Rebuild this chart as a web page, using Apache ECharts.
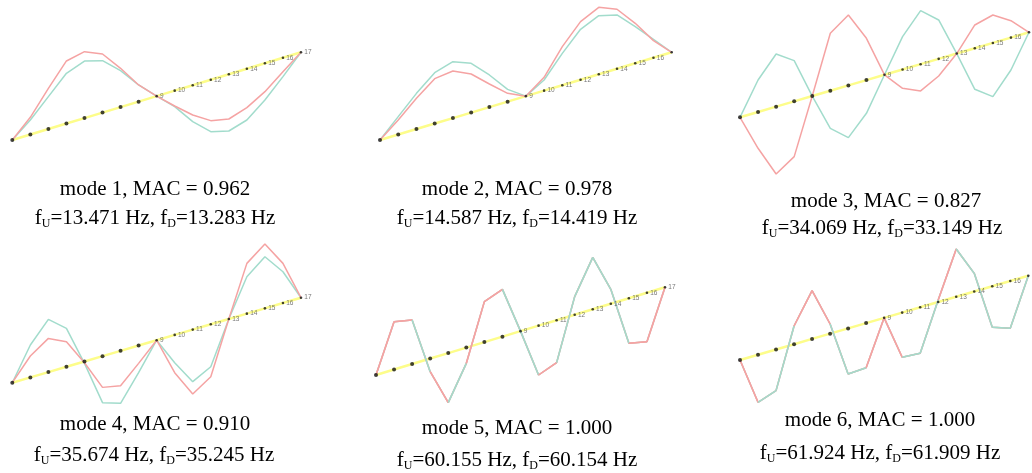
<!DOCTYPE html>
<html><head><meta charset="utf-8">
<script src="https://cdn.jsdelivr.net/npm/echarts@6/dist/echarts.min.js"></script>
<style>html,body{margin:0;padding:0;background:#fff}#c{width:1032px;height:473px}</style>
</head><body><div id="c"></div>
<script>
// ---- data ----
const nodes = [1,2,3,4,5,6,7,8,9,10,11,12,13,14,15,16,17];
const nodeRise = [0,1,2,3,4,5,6,7,8,9,10,11,12,13,14,15,16];
const nodeLabels = ['','','','','','','','','9','10','11','12','13','14','15','16','17'];
const showLastLabel = [true,false,false,true,true,false];

const p1Red  = [0,3.14,7.43,11.42,12.12,10.69,7.08,3.04,0,-2.80,-5.44,-7.47,-8.17,-7.10,-5.18,-2.53,0];
const p1Teal = [0,2.65,5.91,9.17,10.41,9.48,6.65,3.04,0,-2.92,-6.66,-9.48,-10.36,-9.35,-6.70,-3.44,0];
const p2Red  = [0,2.65,5.60,8.19,8.59,7.04,4.22,1.51,0,2.43,7.03,10.60,12.21,10.85,7.29,3.13,0];
const p2Teal = [0,3.26,6.51,9.29,10.29,8.99,5.86,2.24,0,1.95,5.81,9.20,10.69,9.81,6.68,3.37,0];
const p3Red  = [0,-6.83,-12.67,-10.40,0,10.81,13.26,7.87,0,-3.54,-5.04,-3.22,0,4.38,5.26,3.19,0];
const p3Teal = [0,6.03,9.92,7.67,0,-7.07,-9.82,-6.25,0,6.18,10.08,7.32,0,-7.73,-10.11,-6.09,0];
const p4Red  = [0,4.02,6.34,4.72,-0.24,-5.88,-6.56,-3.36,0,-7.12,-12.13,-9.87,0,9.46,12.10,7.46,0];
const p4Teal = [0,6.09,9.92,7.23,-0.36,-8.76,-9.89,-5.12,0,-5.24,-9.81,-7.99,0,6.95,9.71,5.89,0];
const p5Red  = [0,8.73,8.04,-2.39,-9.05,-2.87,7.38,8.63,0,-9.00,-7.75,3.30,9.47,2.63,-8.22,-8.92,0];
const p5Teal = [0,8.73,8.04,-2.39,-9.05,-2.87,7.38,8.63,0,-9.00,-7.75,3.30,9.47,2.63,-8.22,-8.92,0];
const p6Red  = [0,-9.03,-7.82,3.45,9.16,1.83,-8.66,-8.46,0,-8.49,-8.73,0.39,9.06,3.45,-7.80,-8.99,0];
const p6Teal = [0,-9.03,-7.82,3.45,9.16,1.83,-8.66,-8.46,0,-8.49,-8.73,0.39,9.06,3.45,-7.80,-8.99,0];
// which curve is drawn in front on each segment (for overlapping modes)
const p5Front = ['R','R','T','R','T','R','R','T','T','R','T','T','T','T','R','R'];
const p6Front = ['R','T','T','R','R','T','T','R','R','T','T','R','T','T','T','T'];

const modeNames = ['mode 1','mode 2','mode 3','mode 4','mode 5','mode 6'];
const macValues = ['0.962','0.978','0.827','0.910','1.000','1.000'];
const freqU = ['13.471','14.587','34.069','35.674','60.155','61.924'];
const freqD = ['13.283','14.419','33.149','35.245','60.154','61.909'];

// ---- layout ----
const panels = [
  {red:p1Red, teal:p1Teal, front:null,    x1:12.3, y1:140,   x17:301,   y17:52.3,  c1:[155,189], c2:[155,218]},
  {red:p2Red, teal:p2Teal, front:null,    x1:380,  y1:140,   x17:671.7, y17:52.3,  c1:[517,189], c2:[517,218]},
  {red:p3Red, teal:p3Teal, front:null,    x1:740,  y1:117.3, x17:1029,  y17:32.3,  c1:[886,201], c2:[882,228]},
  {red:p4Red, teal:p4Teal, front:null,    x1:12.3, y1:382.7, x17:301,   y17:297.7, c1:[155,424], c2:[154,455]},
  {red:p5Red, teal:p5Teal, front:p5Front, x1:376,  y1:375,   x17:665,   y17:287.3, c1:[517,428], c2:[517,460]},
  {red:p6Red, teal:p6Teal, front:p6Front, x1:740,  y1:360,   x17:1028.3,y17:275.7, c1:[880,420], c2:[880,453]}
];
const RED = '#f5a3a3', TEAL = '#a2dccc', YELLOW = '#fdfd8a';
const yMin = -16, yMax = 20;

const grid = [], xAxis = [], yAxis = [], series = [], graphic = [];
const serif = '"Liberation Serif","Times New Roman",serif';
const rich = {
  t: {fontSize: 21, fontFamily: serif, color: '#000', lineHeight: 24},
  s: {fontSize: 12, fontFamily: serif, color: '#000', verticalAlign: 'bottom'}
};

panels.forEach((p, k) => {
  const u = (p.y1 - p.y17) / 16;
  grid.push({left: p.x1, top: p.y1 - yMax * u, width: p.x17 - p.x1, height: (yMax - yMin) * u});
  xAxis.push({type: 'value', gridIndex: k, min: 1, max: 17, show: false});
  yAxis.push({type: 'value', gridIndex: k, min: yMin, max: yMax, show: false});
  const base = nodes.map((n, i) => [n, nodeRise[i]]);
  series.push({type: 'line', xAxisIndex: k, yAxisIndex: k, data: base, showSymbol: false, silent: true, clip: false,
    lineStyle: {color: YELLOW, width: 2.5}, z: 1});
  series.push({type: 'line', xAxisIndex: k, yAxisIndex: k, data: nodes.map((n, i) => [n, nodeRise[i] + p.teal[i]]),
    showSymbol: false, silent: true, clip: false, lineStyle: {color: TEAL, width: 1.5}, z: 2});
  series.push({type: 'line', xAxisIndex: k, yAxisIndex: k, data: nodes.map((n, i) => [n, nodeRise[i] + p.red[i]]),
    showSymbol: false, silent: true, clip: false, lineStyle: {color: RED, width: 1.5}, z: 3});
  if (p.front) {
    const segs = p.front.map((f, i) => {
      const arr = f === 'R' ? p.red : p.teal;
      return {coords: [[nodes[i], nodeRise[i] + arr[i]], [nodes[i + 1], nodeRise[i + 1] + arr[i + 1]]],
        lineStyle: {color: f === 'R' ? RED : TEAL}};
    });
    series.push({type: 'lines', coordinateSystem: 'cartesian2d', xAxisIndex: k, yAxisIndex: k, data: segs,
      silent: true, clip: false, lineStyle: {width: 1.5, opacity: 1}, z: 4});
  }
  series.push({type: 'scatter', xAxisIndex: k, yAxisIndex: k, data: base, silent: true, clip: false,
    symbolSize: (v, prm) => prm.dataIndex < 8 ? 4 : 2.6,
    itemStyle: {color: '#111'}, z: 5,
    label: {show: true, position: 'right', distance: 2, fontSize: 6.5, color: '#555', fontFamily: 'Arial, sans-serif',
      formatter: (prm) => (prm.dataIndex === 16 && !showLastLabel[k]) ? '' : nodeLabels[prm.dataIndex]}});

  graphic.push({type: 'text', x: p.c1[0], y: p.c1[1], silent: true,
    style: {text: '{t|' + modeNames[k] + ', MAC = ' + macValues[k] + '}', rich: rich,
      align: 'center', verticalAlign: 'middle', textAlign: 'center', textVerticalAlign: 'middle'}});
  graphic.push({type: 'text', x: p.c2[0], y: p.c2[1], silent: true,
    style: {text: '{t|f}{s|U}{t|=' + freqU[k] + ' Hz, f}{s|D}{t|=' + freqD[k] + ' Hz}', rich: rich,
      align: 'center', verticalAlign: 'middle', textAlign: 'center', textVerticalAlign: 'middle'}});
});

const chart = echarts.init(document.getElementById('c'), null, {renderer: 'canvas'});
chart.setOption({animation: false, backgroundColor: '#fff', grid, xAxis, yAxis, series, graphic});
</script></body></html>
